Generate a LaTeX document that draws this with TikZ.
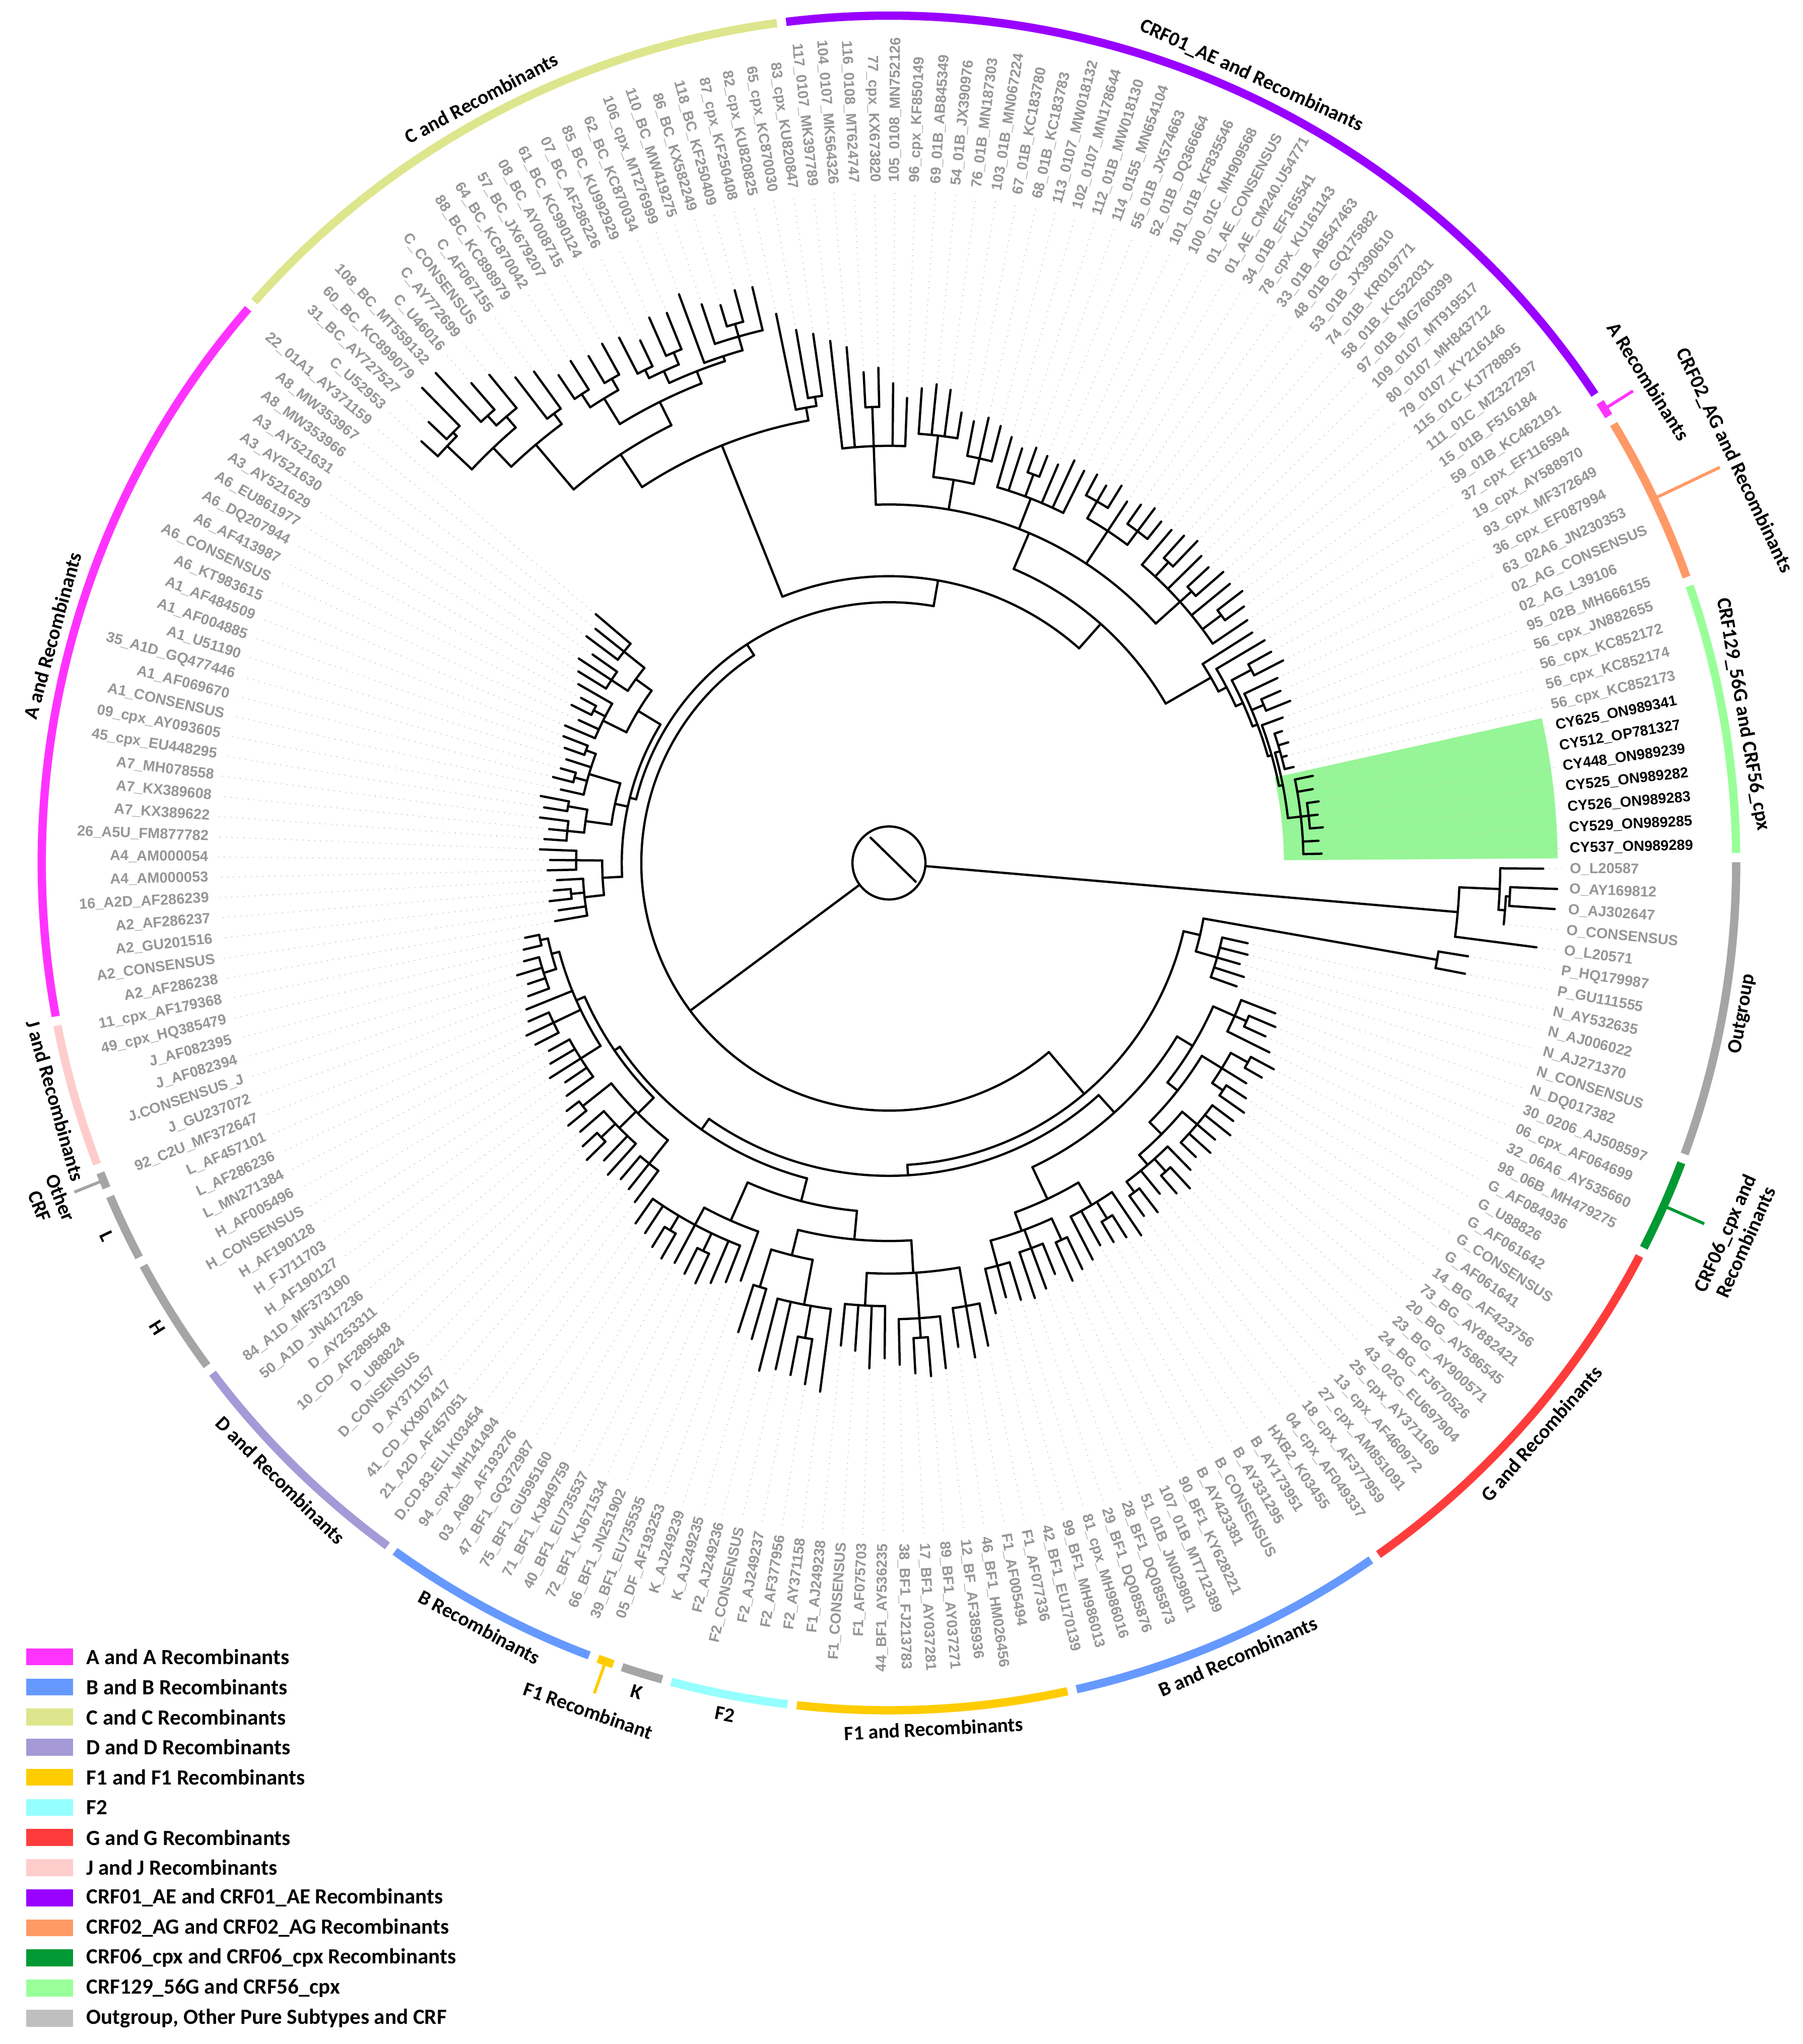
\documentclass[tikz,border=0pt]{standalone}
\usepackage{fontspec}
\setmainfont{Liberation Sans}
\newfontfamily\calib{Carlito}
\definecolor{cA}{RGB}{255,51,255}
\definecolor{cB}{RGB}{102,153,255}
\definecolor{cC}{RGB}{221,230,140}
\definecolor{cD}{RGB}{165,153,215}
\definecolor{cFa}{RGB}{255,204,0}
\definecolor{cFb}{RGB}{150,255,255}
\definecolor{cG}{RGB}{255,60,60}
\definecolor{cJ}{RGB}{255,204,204}
\definecolor{cAE}{RGB}{153,0,255}
\definecolor{cAG}{RGB}{255,153,102}
\definecolor{cSix}{RGB}{0,153,51}
\definecolor{cOneTwoNine}{RGB}{153,255,153}
\definecolor{cOut}{RGB}{165,165,165}
\definecolor{cLegGray}{RGB}{191,191,191}
\definecolor{tipgray}{RGB}{150,150,150}
\definecolor{leadgray}{RGB}{195,195,195}
\definecolor{hlgreen}{RGB}{150,245,150}

\newcount\tipno
\def\Rlead{516}
\def\Rlab{522}
\def\Rring{650}
\newcommand\TReg[1]{%
  \draw[br] (\retA:\prad) -- (\retA:#1);%
  \ifx\firstA\relax\let\firstA\retA\fi
  \let\lastA\retA}
\newcommand\TLf[1]{%
  \pgfmathsetmacro\tmpA{-0.5-1.730769*\the\tipno}%
  \global\advance\tipno by 1\relax
  \xdef\retA{\tmpA}%
  \draw[leader] (\retA:#1) -- (\retA:\Rlead);%
  \TReg{#1}}
\newcommand\TCl[2]{%
  \begingroup
    \def\prad{#1}%
    \let\firstA\relax
    #2%
    \pgfmathsetmacro\nodeA{(\firstA+\lastA)/2}%
    \draw[br] (\firstA:#1) arc[start angle=\firstA, end angle=\lastA, radius=#1];%
    \xdef\retA{\nodeA}%
  \endgroup
  \TReg{#1}}
\newcommand\ringseg[3]{%
  \pgfmathsetmacro\ra{-0.5-1.730769*#2+0.55}%
  \pgfmathsetmacro\rb{-0.5-1.730769*#3-0.55}%
  \draw[#1,ringline] (\ra:\Rring) arc[start angle=\ra, end angle=\rb, radius=\Rring];}

\tikzset{
  br/.style={line width=0.9pt, black, line cap=round},
  leader/.style={leadgray, line width=0.35pt, dotted},
  ringline/.style={line width=3.3pt},
  tiplab/.style={font=\bfseries\fontsize{5.8}{7}\selectfont, text=tipgray, inner sep=0pt},
  cylab/.style={font=\bfseries\fontsize{5.8}{7}\selectfont, text=black, inner sep=0pt},
  grplab/.style={font=\calib\bfseries\fontsize{8}{9}\selectfont, align=center, inner sep=0pt},
  legtext/.style={font=\calib\bfseries\fontsize{8.6}{10}\selectfont, anchor=west, inner sep=0pt},
  tick/.style={line width=1.2pt}
}

\begin{document}
\begin{tikzpicture}[x=0.5176pt,y=0.5176pt]
\useasboundingbox (0,0) rectangle (1383,-1568);
\fill[white] (0,0) rectangle (1383,-1568);
\begin{scope}[shift={(682,-662)}]
% highlight
\fill[hlgreen] (-347.5:303) arc[start angle=-347.5, end angle=-359.6, radius=303] -- (-359.6:513) arc[start angle=-359.6, end angle=-347.5, radius=513] -- cycle;
% ring
\ringseg{cOut}{0}{11}
\ringseg{cSix}{12}{15}
\ringseg{cG}{16}{31}
\ringseg{cB}{32}{44}
\ringseg{cFa}{45}{55}
\ringseg{cFb}{56}{60}
\ringseg{cOut}{61}{62}
\ringseg{cFa}{63}{63}
\ringseg{cB}{64}{72}
\ringseg{cD}{73}{82}
\ringseg{cOut}{83}{87}
\ringseg{cOut}{88}{90}
\ringseg{cOut}{91}{91}
\ringseg{cJ}{92}{97}
\ringseg{cA}{98}{127}
\ringseg{cC}{128}{151}
\ringseg{cAE}{152}{188}
\ringseg{cA}{189}{189}
\ringseg{cAG}{190}{196}
\ringseg{cOneTwoNine}{197}{207}
% ticks
\draw[cSix,tick] (-23.87:\Rring) -- (-23.87:684);
\draw[cFa,tick] (-109.54:\Rring) -- (-109.54:676);
\draw[cOut,tick] (-158.0:\Rring) -- (-158.0:674);
\draw[cA,tick] (32.39:\Rring) -- (32.39:676);
\draw[cAG,tick] (25.46:\Rring) -- (25.46:706);
% group labels
\node[grplab, rotate=80.0] (gOut) at (-10.02:665) {Outgroup};
\node[grplab, rotate=66.1] (gSix) at (-23.87:710) {CRF06\_cpx and\\Recombinants};
\node[grplab, rotate=48.8] (gG) at (-41.17:665) {G and Recombinants};
\node[grplab, rotate=23.7] (gB) at (-66.27:665) {B and Recombinants};
\node[grplab, rotate=2.96] (gF) at (-87.04:665) {F1 and Recombinants};
\node[grplab, rotate=-10.9] (gFb) at (-100.9:665) {F2};
\node[grplab, rotate=-16.9] (gK) at (-106.94:665) {K};
\node[grplab, rotate=-19.5] (gFr) at (-109.54:690) {F1 Recombinant};
\node[grplab, rotate=-28.2] (gBr) at (-118.2:665) {B Recombinants};
\node[grplab, rotate=-44.6] (gD) at (-134.6:665) {D and Recombinants};
\node[grplab, rotate=-57.6] (gH) at (-147.6:665) {H};
\node[grplab, rotate=-64.5] (gL) at (-154.5:665) {L};
\node[grplab, rotate=-68.0] (gO) at (-158.0:694) {Other\\CRF};
\node[grplab, rotate=-74.1] (gJ) at (-164.1:665) {J and Recombinants};
\node[grplab, rotate=74.8] (gA) at (164.8:665) {A and Recombinants};
\node[grplab, rotate=28.06] (gC) at (118.06:665) {C and Recombinants};
\node[grplab, rotate=-24.7] (gAE) at (65.27:665) {CRF01\_AE and Recombinants};
\node[grplab, rotate=-57.6] (gAr) at (32.39:690) {A Recombinants};
\node[grplab, rotate=-64.5] (gAG) at (25.46:718) {CRF02\_AG and Recombinants};
\node[grplab, rotate=-80.1] (gCRF) at (9.88:665) {CRF129\_56G and CRF56\_cpx};
% tree: root circle
\draw[br] (0,0) circle[radius=28];
\draw[br] (126:24) -- (-35:25);
\global\tipno=0
\def\prad{28}\let\firstA\relax
\TCl{438}{\TCl{469}{\TLf{502}\TCl{474}{\TCl{477}{\TLf{513}\TLf{512}}\TLf{474}}}\TLf{501}}%
\TCl{190}{%
 \TCl{232}{%
  \TCl{245}{\TCl{427}{\TLf{450}\TLf{450}}\TCl{262}{\TLf{282}\TLf{284}\TLf{280}\TLf{286}\TLf{283}}}%
  \TCl{240}{%
   \TCl{258}{%
    \TCl{272}{\TCl{290}{\TLf{318}\TCl{300}{\TLf{322}\TLf{318}}\TLf{326}}\TCl{282}{\TCl{300}{\TCl{315}{\TLf{335}\TLf{330}}\TLf{322}\TCl{310}{\TLf{328}\TLf{333}}}\TCl{295}{\TCl{310}{\TLf{330}\TLf{335}\TLf{328}\TLf{332}\TLf{326}}\TCl{305}{\TLf{330}\TCl{318}{\TLf{340}\TLf{336}}\TLf{328}\TCl{315}{\TLf{338}\TLf{334}}}}}}%
    \TCl{285}{\TCl{305}{\TLf{345}\TCl{320}{\TLf{340}\TLf{338}}\TLf{335}\TLf{342}}\TCl{300}{\TCl{318}{\TLf{345}\TLf{350}}\TCl{315}{\TLf{340}\TLf{348}\TLf{352}}\TCl{320}{\TLf{350}\TLf{345}\TLf{355}}}}%
   }%
   \TCl{250}{%
    \TCl{268}{%
     \TCl{290}{\TCl{315}{\TCl{345}{\TLf{378}\TLf{385}\TLf{375}}\TCl{350}{\TLf{390}\TCl{365}{\TLf{395}\TLf{392}}\TLf{385}}\TCl{340}{\TLf{380}\TLf{388}\TLf{375}\TLf{372}}}\TCl{310}{\TCl{345}{\TLf{409}\TCl{370}{\TLf{405}\TLf{400}}\TLf{398}\TLf{402}}\TCl{340}{\TLf{380}\TLf{378}}}}%
     \TCl{300}{\TLf{340}\TCl{315}{\TLf{345}\TLf{350}\TCl{330}{\TLf{355}\TLf{352}}\TLf{348}\TCl{328}{\TLf{350}\TLf{346}}\TLf{340}\TLf{338}}}%
    }%
    \TCl{255}{%
     \TCl{272}{\TCl{295}{\TLf{325}\TLf{320}\TLf{318}}\TCl{290}{\TLf{322}\TLf{316}\TCl{305}{\TLf{325}\TLf{320}}\TLf{314}}\TCl{300}{\TLf{318}\TLf{312}}}%
     \TCl{262}{\TCl{280}{\TLf{305}\TLf{300}\TLf{308}\TLf{302}\TLf{298}}\TCl{285}{\TLf{305}\TLf{308}\TLf{302}}\TLf{300}\TCl{268}{\TCl{278}{\TLf{295}\TLf{292}\TLf{298}\TLf{290}}\TCl{274}{\TLf{288}\TLf{285}}}}%
    }%
   }%
  }%
 }%
 \TCl{200}{%
  \TCl{205}{%
   \TCl{220}{\TCl{235}{\TLf{260}\TLf{256}\TCl{245}{\TLf{262}\TLf{258}}\TLf{255}}\TCl{240}{\TLf{262}\TLf{260}\TLf{268}}}%
   \TCl{215}{\TCl{235}{\TCl{248}{\TLf{265}\TLf{262}\TLf{270}}\TCl{250}{\TLf{268}\TLf{272}}}\TCl{240}{\TLf{258}\TCl{250}{\TLf{266}\TLf{262}}\TLf{260}\TCl{248}{\TLf{264}\TLf{268}}}}%
   \TCl{225}{\TCl{245}{\TLf{270}\TLf{262}\TCl{255}{\TLf{272}\TLf{268}}\TLf{275}}\TCl{240}{\TCl{255}{\TLf{280}\TLf{285}\TLf{278}}\TCl{260}{\TLf{290}\TLf{288}\TLf{295}}}}%
  }%
  \TCl{220}{%
   \TCl{345}{%
    \TCl{375}{%
     \TCl{420}{\TCl{440}{\TCl{466}{\TLf{483}\TCl{470}{\TLf{489}\TLf{511}}}\TCl{451}{\TCl{461}{\TLf{512}\TLf{488}}\TLf{484}}}\TCl{430}{\TLf{470}\TLf{465}}}%
     \TCl{395}{\TCl{418}{\TCl{430}{\TLf{452}\TLf{456}}\TCl{428}{\TLf{452}\TLf{455}}}\TCl{405}{\TCl{415}{\TCl{422}{\TLf{453}\TLf{444}}\TCl{425}{\TLf{457}\TLf{455}}}\TCl{409}{\TLf{465}\TCl{420}{\TLf{452}\TCl{430}{\TLf{447}\TLf{455}}\TLf{454}}}}}%
    }%
    \TCl{355}{\TLf{430}\TCl{362}{\TLf{415}\TLf{410}}}%
   }%
   \TCl{245}{%
    \TCl{275}{%
     \TCl{320}{\TLf{403}\TLf{397}\TCl{350}{\TLf{377}\TLf{380}}\TLf{368}\TLf{357}}%
     \TCl{298}{\TCl{330}{\TLf{365}\TLf{369}\TLf{366}\TLf{350}}\TCl{318}{\TLf{345}\TLf{350}\TLf{346}}}%
     \TCl{300}{\TLf{340}\TLf{334}\TCl{318}{\TLf{338}\TLf{335}}\TLf{332}\TLf{340}\TLf{336}}%
     \TCl{305}{\TCl{320}{\TLf{338}\TLf{334}\TLf{340}}\TLf{332}\TCl{318}{\TLf{336}\TLf{340}\TLf{335}}}%
     \TCl{300}{\TLf{335}\TCl{315}{\TLf{338}\TLf{342}}\TLf{336}\TCl{312}{\TLf{334}\TLf{340}}\TLf{338}\TCl{318}{\TLf{342}\TLf{336}}\TLf{332}}%
    }%
    \TCl{285}{\TLf{330}\TCl{292}{\TLf{335}\TCl{298}{\TCl{315}{\TLf{335}\TLf{340}}\TCl{302}{\TLf{330}\TCl{312}{\TLf{328}\TLf{332}}\TCl{305}{\TLf{322}\TCl{308}{\TCl{312}{\TLf{318}\TLf{320}\TLf{316}\TLf{319}}\TCl{318}{\TLf{332}\TLf{330}\TCl{324}{\TLf{333}\TLf{331}\TLf{334}}\TLf{330}\TLf{332}}}}}}}}%
   }%
  }%
 }%
}
% tip labels
\foreach \nm [count=\i from 0] in {O\_L20587,O\_AY169812,O\_AJ302647,O\_CONSENSUS,O\_L20571,P\_HQ179987,P\_GU111555,N\_AY532635,N\_AJ006022,N\_AJ271370,N\_CONSENSUS,N\_DQ017382,30\_0206\_AJ508597,06\_cpx\_AF064699,32\_06A6\_AY535660,98\_06B\_MH479275,G\_AF084936,G\_U88826,G\_AF061642,G\_CONSENSUS,G\_AF061641,14\_BG\_AF423756,73\_BG\_AY882421,20\_BG\_AY586545,23\_BG\_AY900571,24\_BG\_FJ670526,43\_02G\_EU697904,25\_cpx\_AY371169,13\_cpx\_AF460972,27\_cpx\_AM851091,18\_cpx\_AF377959,04\_cpx\_AF049337,HXB2\_K03455,B\_AY173951,B\_AY331295,B\_CONSENSUS,B\_AY423381,90\_BF1\_KY628221,107\_01B\_MT712389,51\_01B\_JN029801,28\_BF1\_DQ085873,29\_BF1\_DQ085876,81\_cpx\_MH986016,99\_BF1\_MH986013,42\_BF1\_EU170139,F1\_AF077336,F1\_AF005494,46\_BF1\_HM026456,12\_BF\_AF385936,89\_BF1\_AY037271,17\_BF1\_AY037281,38\_BF1\_FJ213783,44\_BF1\_AY536235,F1\_AF075703,F1\_CONSENSUS,F1\_AJ249238,F2\_AY371158,F2\_AF377956,F2\_AJ249237,F2\_CONSENSUS,F2\_AJ249236,K\_AJ249235,K\_AJ249239,05\_DF\_AF193253,39\_BF1\_EU735535,66\_BF1\_JN251902,72\_BF1\_KJ671534,40\_BF1\_EU735537,71\_BF1\_KJ849759,75\_BF1\_GU595160,47\_BF1\_GQ372987,03\_A6B\_AF193276,94\_cpx\_MH141494,D.CD.83.ELI.K03454,21\_A2D\_AF457051,41\_CD\_KX907417,D\_AY371157,D\_CONSENSUS,D\_U88824,10\_CD\_AF289548,D\_AY253311,50\_A1D\_JN417236,84\_A1D\_MF373190,H\_AF190127,H\_FJ711703,H\_AF190128,H\_CONSENSUS,H\_AF005496,L\_MN271384,L\_AF286236,L\_AF457101,92\_C2U\_MF372647,J\_GU237072,J.CONSENSUS\_J,J\_AF082394,J\_AF082395,49\_cpx\_HQ385479,11\_cpx\_AF179368,A2\_AF286238,A2\_CONSENSUS,A2\_GU201516,A2\_AF286237,16\_A2D\_AF286239,A4\_AM000053,A4\_AM000054,26\_A5U\_FM877782,A7\_KX389622,A7\_KX389608,A7\_MH078558,45\_cpx\_EU448295,09\_cpx\_AY093605,A1\_CONSENSUS,A1\_AF069670,35\_A1D\_GQ477446,A1\_U51190,A1\_AF004885,A1\_AF484509,A6\_KT983615,A6\_CONSENSUS,A6\_AF413987,A6\_DQ207944,A6\_EU861977,A3\_AY521629,A3\_AY521630,A3\_AY521631,A8\_MW353966,A8\_MW353967,22\_01A1\_AY371159,C\_U52953,31\_BC\_AY727527,60\_BC\_KC899079,108\_BC\_MT559132,C\_U46016,C\_AY772699,C\_CONSENSUS,C\_AF067155,88\_BC\_KC898979,64\_BC\_KC870042,57\_BC\_JX679207,08\_BC\_AY008715,61\_BC\_KC990124,07\_BC\_AF286226,85\_BC\_KU992929,62\_BC\_KC870034,106\_cpx\_MT276999,110\_BC\_MW419275,86\_BC\_KX582249,118\_BC\_KF250409,87\_cpx\_KF250408,82\_cpx\_KU820825,65\_cpx\_KC870030,83\_cpx\_KU820847,117\_0107\_MK397789,104\_0107\_MK564326,116\_0108\_MT624747,77\_cpx\_KX673820,105\_0108\_MN752126,96\_cpx\_KF850149,69\_01B\_AB845349,54\_01B\_JX390976,76\_01B\_MN187303,103\_01B\_MN067224,67\_01B\_KC183780,68\_01B\_KC183783,113\_0107\_MW018132,102\_0107\_MN178644,112\_01B\_MW018130,114\_0155\_MN654104,55\_01B\_JX574663,52\_01B\_DQ366664,101\_01B\_KF835546,100\_01C\_MH909568,01\_AE\_CONSENSUS,01\_AE\_CM240.U54771,34\_01B\_EF165541,78\_cpx\_KU161143,33\_01B\_AB547463,48\_01B\_GQ175882,53\_01B\_JX390610,74\_01B\_KR019771,58\_01B\_KC522031,97\_01B\_MG760399,109\_0107\_MT919517,80\_0107\_MH843712,79\_0107\_KY216146,115\_01C\_KJ778895,111\_01C\_MZ327297,15\_01B\_F516184,59\_01B\_KC462191,37\_cpx\_EF116594,19\_cpx\_AY588970,93\_cpx\_MF372649,36\_cpx\_EF087994,63\_02A6\_JN230353,02\_AG\_CONSENSUS,02\_AG\_L39106,95\_02B\_MH666155,56\_cpx\_JN882655,56\_cpx\_KC852172,56\_cpx\_KC852174,56\_cpx\_KC852173}{%
  \pgfmathsetmacro\ang{-0.5-1.730769*\i}%
  \pgfmathsetmacro\an{mod(\ang+1080,360)}%
  \pgfmathtruncatemacro\lft{(\an>90 && \an<270) ? 1 : 0}%
  \ifnum\lft=1
    \pgfmathsetmacro\rot{\an-180}%
    \node[tiplab, anchor=east, rotate=\rot] (t\i) at (\ang:\Rlab) {\nm};
  \else
    \node[tiplab, anchor=west, rotate=\an] (t\i) at (\ang:\Rlab) {\nm};
  \fi
}
\foreach \nm [count=\i from 201] in {CY625\_ON989341,CY512\_OP781327,CY448\_ON989239,CY525\_ON989282,CY526\_ON989283,CY529\_ON989285,CY537\_ON989289}{%
  \pgfmathsetmacro\ang{-0.5-1.730769*\i}%
  \pgfmathsetmacro\an{mod(\ang+1080,360)}%
  \node[cylab, anchor=west, rotate=\an] (t\i) at (\ang:\Rlab) {\nm};
}
\end{scope}
% legend
\foreach \c/\t [count=\k from 0] in {cA/A and A Recombinants,cB/B and B Recombinants,cC/C and C Recombinants,cD/D and D Recombinants,cFa/F1 and F1 Recombinants,cFb/F2,cG/G and G Recombinants,cJ/J and J Recombinants,cAE/CRF01\_AE and CRF01\_AE Recombinants,cAG/CRF02\_AG and CRF02\_AG Recombinants,cSix/CRF06\_cpx and CRF06\_cpx Recombinants,cOneTwoNine/CRF129\_56G and CRF56\_cpx,cLegGray/{Outgroup, Other Pure Subtypes and CRF}}{%
  \pgfmathsetmacro\yy{-1271-23.1*\k}%
  \fill[\c] (20,\yy+6.5) rectangle (56,\yy-6.5);
  \node[legtext] (leg\k) at (66,\yy) {\t};
}
\end{tikzpicture}
\end{document}
